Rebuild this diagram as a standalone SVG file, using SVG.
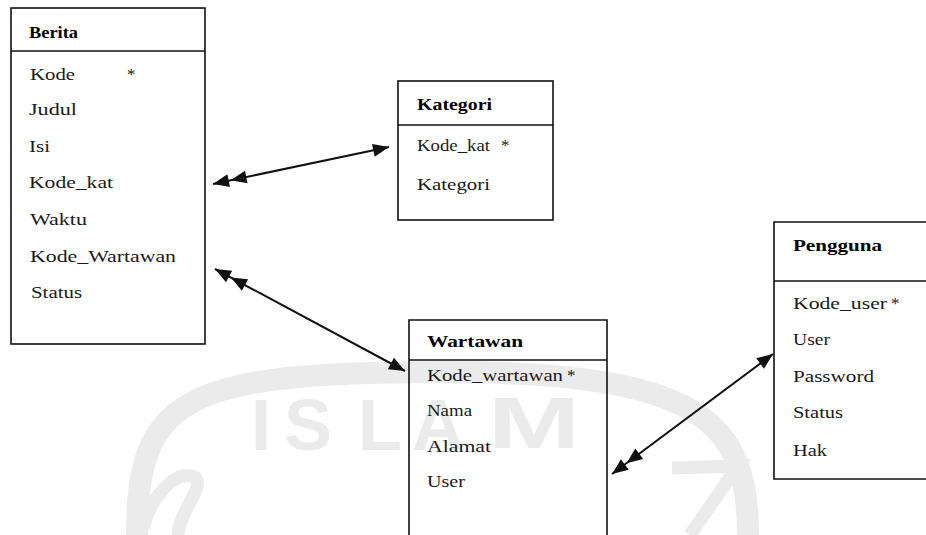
<svg xmlns="http://www.w3.org/2000/svg" width="926" height="535" viewBox="0 0 926 535">
  <style>
    .wm { fill: none; stroke: #ebebeb; stroke-linecap: butt; }
    .wmt { fill: #ebebeb; font-family: "Liberation Sans", Arial, sans-serif; font-weight: bold; font-size: 72px; }
    .box { fill: none; stroke: #111; stroke-width: 1.6; }
    .sep { stroke: #111; stroke-width: 1.4; }
    .title { font-family: "Liberation Serif", "Times New Roman", serif; font-weight: bold; font-size: 16px; fill: #000; }
    .attr { font-family: "Liberation Serif", "Times New Roman", serif; font-size: 17px; fill: #1a1a1a; }
    .rel { fill: none; stroke: #111; stroke-width: 2; }
  </style>
  <defs>
    <marker id="head" viewBox="-18 -8 20 16" refX="0" refY="0" markerWidth="20" markerHeight="16" markerUnits="userSpaceOnUse" orient="auto">
      <path d="M0,0 L-16,-6.5 L-16,6.5 Z" fill="#111"/>
    </marker>
    <marker id="head2" viewBox="-36 -8 38 16" refX="0" refY="0" markerWidth="38" markerHeight="16" markerUnits="userSpaceOnUse" orient="auto-start-reverse">
      <path d="M0,0 L-16,-6.5 L-16,6.5 Z M-18,0 L-34,-6.5 L-34,6.5 Z" fill="#111"/>
    </marker>
  </defs>

  <rect width="926" height="535" fill="#fff"/>

  <!-- faint background emblem -->
  <g id="emblem">
    <path class="wm" stroke-width="22" d="M137 535 C137 400 180 372 441 372 C700 372 748 420 748 535"/>
    <path class="wm" stroke-width="13" d="M143 528 C150 500 172 472 192 476 C210 482 178 512 178 535"/>
    <path class="wm" stroke-width="13" d="M672 468 L738 466 L690 535"/>
    <text class="wmt" x="251" y="450">I</text>
    <text class="wmt" x="284" y="450">S</text>
    <text class="wmt" x="358" y="450">L</text>
    <text class="wmt" x="412" y="450">A</text>
    <text class="wmt" x="488" y="448" textLength="92" lengthAdjust="spacingAndGlyphs">M</text>
  </g>

  <!-- relationships -->
  <g id="connectors">
    <line class="rel" x1="213" y1="184" x2="389" y2="147" marker-start="url(#head2)" marker-end="url(#head)"/>
    <line class="rel" x1="215" y1="269" x2="405" y2="371" marker-start="url(#head2)" marker-end="url(#head)"/>
    <line class="rel" x1="612" y1="474" x2="773" y2="354" marker-start="url(#head2)" marker-end="url(#head)"/>
  </g>

  <!-- Berita table -->
  <g id="berita">
    <rect class="box" x="11" y="8" width="194" height="336"/>
    <line class="sep" x1="11" y1="51" x2="205" y2="51"/>
    <text class="title" x="29" y="38" textLength="49" lengthAdjust="spacingAndGlyphs">Berita</text>
    <text class="attr" x="30" y="80" textLength="45" lengthAdjust="spacingAndGlyphs">Kode</text>
    <text class="attr" x="127" y="80">*</text>
    <text class="attr" x="29" y="115" textLength="48" lengthAdjust="spacingAndGlyphs">Judul</text>
    <text class="attr" x="29" y="152" textLength="21" lengthAdjust="spacingAndGlyphs">Isi</text>
    <text class="attr" x="29" y="188" textLength="84" lengthAdjust="spacingAndGlyphs">Kode_kat</text>
    <text class="attr" x="30" y="225" textLength="57" lengthAdjust="spacingAndGlyphs">Waktu</text>
    <text class="attr" x="30" y="262" textLength="146" lengthAdjust="spacingAndGlyphs">Kode_Wartawan</text>
    <text class="attr" x="31" y="298" textLength="51" lengthAdjust="spacingAndGlyphs">Status</text>
  </g>

  <!-- Kategori table -->
  <g id="kategori">
    <rect class="box" x="398" y="81" width="155" height="139"/>
    <line class="sep" x1="398" y1="125" x2="553" y2="125"/>
    <text class="title" x="417" y="110" textLength="75" lengthAdjust="spacingAndGlyphs">Kategori</text>
    <text class="attr" x="417" y="151" textLength="73" lengthAdjust="spacingAndGlyphs">Kode_kat</text>
    <text class="attr" x="501" y="151">*</text>
    <text class="attr" x="417" y="190" textLength="73" lengthAdjust="spacingAndGlyphs">Kategori</text>
  </g>

  <!-- Wartawan table (runs past the lower edge) -->
  <g id="wartawan">
    <path class="box" d="M409 540 V320 H607 V540"/>
    <line class="sep" x1="409" y1="360" x2="607" y2="360"/>
    <text class="title" x="427" y="347" textLength="96" lengthAdjust="spacingAndGlyphs">Wartawan</text>
    <text class="attr" x="427" y="381" textLength="136" lengthAdjust="spacingAndGlyphs">Kode_wartawan</text>
    <text class="attr" x="567" y="381">*</text>
    <text class="attr" x="427" y="416" textLength="45" lengthAdjust="spacingAndGlyphs">Nama</text>
    <text class="attr" x="427" y="452" textLength="64" lengthAdjust="spacingAndGlyphs">Alamat</text>
    <text class="attr" x="427" y="487" textLength="38" lengthAdjust="spacingAndGlyphs">User</text>
  </g>

  <!-- Pengguna table (runs past the right edge) -->
  <g id="pengguna">
    <path class="box" d="M930 222 H774 V479 H930"/>
    <line class="sep" x1="774" y1="281" x2="926" y2="281"/>
    <text class="title" x="793" y="251" textLength="89" lengthAdjust="spacingAndGlyphs">Pengguna</text>
    <text class="attr" x="793" y="309" textLength="94" lengthAdjust="spacingAndGlyphs">Kode_user</text>
    <text class="attr" x="891" y="309">*</text>
    <text class="attr" x="793" y="345" textLength="37" lengthAdjust="spacingAndGlyphs">User</text>
    <text class="attr" x="793" y="382" textLength="81" lengthAdjust="spacingAndGlyphs">Password</text>
    <text class="attr" x="793" y="418" textLength="50" lengthAdjust="spacingAndGlyphs">Status</text>
    <text class="attr" x="793" y="456" textLength="34" lengthAdjust="spacingAndGlyphs">Hak</text>
  </g>
</svg>
